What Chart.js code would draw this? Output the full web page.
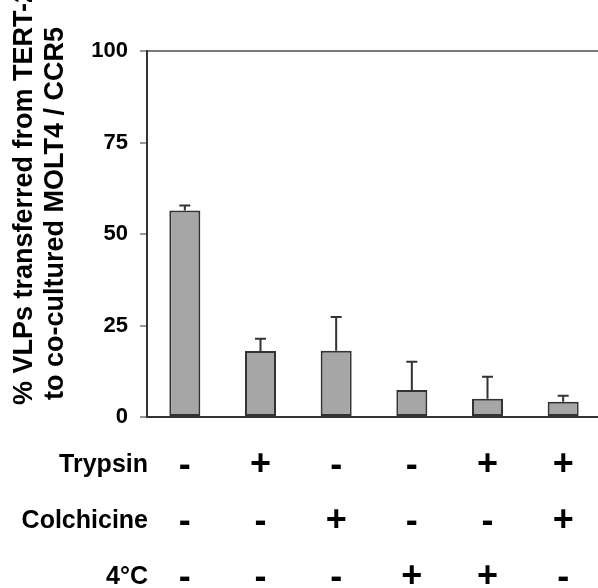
<!DOCTYPE html>
<html>
<head>
<meta charset="utf-8">
<script src="https://cdn.jsdelivr.net/npm/chart.js@4"></script>
<style>
html, body { margin: 0; padding: 0; background: #fff; overflow: hidden; width: 598px; height: 588px; }
canvas { display: block; }
</style>
</head>
<body>
<canvas id="c" width="610" height="588"></canvas>
<script>
// ---- data ----
const categories = ['1', '2', '3', '4', '5', '6'];
const values = [56.4, 18.0, 18.1, 7.4, 5.0, 4.2];
const errorsUp = [1.4, 3.4, 9.2, 7.7, 6.0, 1.6];
const yTicks = [0, 25, 50, 75, 100];
const rowNames = ['Trypsin', 'Colchicine', '4°C'];
const trypsin = ['-', '+', '-', '-', '+', '+'];
const colchicine = ['-', '-', '+', '-', '-', '+'];
const cold = ['-', '-', '-', '+', '+', '-'];
const rows = [trypsin, colchicine, cold];
const titleLines = ['% VLPs transferred from TERT-2', 'to co-cultured MOLT4 / CCR5'];

const FONT = "'Liberation Sans', Arial, sans-serif";

const errorBars = {
  id: 'errorBars',
  afterDatasetsDraw(chart) {
    const ctx = chart.ctx;
    const meta = chart.getDatasetMeta(0);
    const ys = chart.scales.y;
    ctx.save();
    ctx.strokeStyle = '#333';
    ctx.lineWidth = 2;
    meta.data.forEach((bar, i) => {
      const x = bar.x;
      const yTop = ys.getPixelForValue(values[i]);
      const yErr = ys.getPixelForValue(values[i] + errorsUp[i]);
      ctx.beginPath();
      ctx.moveTo(x, yTop);
      ctx.lineTo(x, yErr);
      ctx.moveTo(x - 5.5, yErr);
      ctx.lineTo(x + 5.5, yErr);
      ctx.stroke();
    });
    ctx.restore();
  }
};

const annotations = {
  id: 'annotations',
  afterDraw(chart) {
    const ctx = chart.ctx;
    const xs = chart.scales.x;
    const rowY = [465, 521, 577];
    ctx.save();
    ctx.fillStyle = '#000';
    ctx.textBaseline = 'middle';
    // row labels
    ctx.font = 'bold 25px ' + FONT;
    ctx.textAlign = 'right';
    rowNames.forEach((n, r) => ctx.fillText(n, 148, rowY[r]));
    // signs
    ctx.textAlign = 'center';
    rows.forEach((row, r) => {
      row.forEach((s, i) => {
        const x = xs.getPixelForValue(i);
        ctx.font = 'bold 36px ' + FONT;
        ctx.fillText(s, x, rowY[r] + (s === '-' ? 1 : 0));
      });
    });
    // y title
    ctx.font = 'bold 27px ' + FONT;
    ctx.textAlign = 'left';
    ctx.textBaseline = 'middle';
    const tx = [25, 56];
    const ty = [405, 400];
    titleLines.forEach((t, k) => {
      ctx.save();
      ctx.translate(tx[k], ty[k]);
      ctx.rotate(-Math.PI / 2);
      ctx.fillText(t, 0, 0);
      ctx.restore();
    });
    ctx.restore();
  }
};

new Chart(document.getElementById('c'), {
  type: 'bar',
  data: {
    labels: categories,
    datasets: [{
      data: values,
      backgroundColor: '#a6a6a6',
      borderColor: '#333',
      borderWidth: 2,
      borderSkipped: false,
      categoryPercentage: 1.0,
      barPercentage: 0.41
    }]
  },
  options: {
    responsive: false,
    animation: false,
    devicePixelRatio: 1,
    layout: { padding: { left: 0, right: 9, top: 51, bottom: 171 } },
    plugins: { legend: { display: false }, tooltip: { enabled: false }, title: { display: false } },
    scales: {
      x: {
        grid: { display: false, drawTicks: false },
        border: { display: true, color: '#333', width: 2 },
        ticks: { display: false },
        afterFit(s) { s.height = 0; }
      },
      y: {
        min: 0,
        max: 100,
        afterBuildTicks(s) { s.ticks = yTicks.map(v => ({ value: v })); },
        afterFit(s) { s.width = 147; },
        ticks: {
          color: '#000',
          padding: 12,
          font: { family: FONT, size: 22, weight: 'bold' }
        },
        grid: {
          drawOnChartArea: true,
          color: c => (c.tick && c.tick.value === 100) ? '#7a7a7a' : 'rgba(0,0,0,0)',
          tickColor: '#999',
          tickLength: 7,
          lineWidth: 2
        },
        border: { display: true, color: '#333', width: 2 }
      }
    }
  },
  plugins: [errorBars, annotations]
});
</script>
</body>
</html>
